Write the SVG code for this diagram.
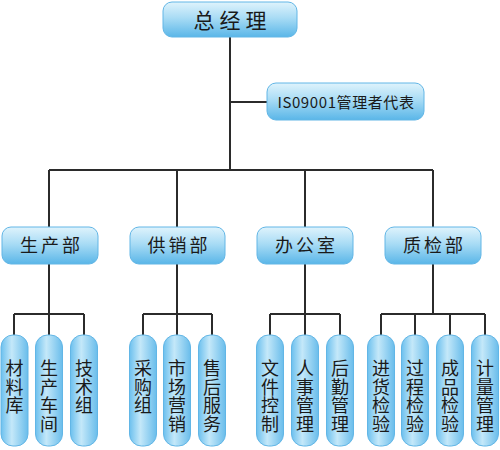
<svg xmlns="http://www.w3.org/2000/svg" width="500" height="450" viewBox="0 0 500 450">
<defs>
<linearGradient id="gh" x1="0" y1="0" x2="0" y2="1">
<stop offset="0" stop-color="#dff3fc"/>
<stop offset="0.45" stop-color="#a9dcf5"/>
<stop offset="1" stop-color="#5ab6e8"/>
</linearGradient>
<linearGradient id="gv" x1="0" y1="0" x2="1" y2="0">
<stop offset="0" stop-color="#6cc0ee"/>
<stop offset="0.4" stop-color="#c4e8f9"/>
<stop offset="1" stop-color="#6abdeb"/>
</linearGradient>
<style>
.bh{fill:url(#gh);stroke:#62b6e6;stroke-width:1}
.bv{fill:url(#gv);stroke:#62b6e6;stroke-width:1}
.t{font-family:"Noto Sans CJK SC","Noto Sans",sans-serif;fill:#1a1a1a;text-anchor:middle}
.t1{font-size:21px;letter-spacing:5px}
.t2{font-size:18px;letter-spacing:3px}
.t3{font-size:15px;letter-spacing:0.6px}
.tv{font-family:"Noto Sans CJK SC","Noto Sans",sans-serif;fill:#1a1a1a;font-size:18px;writing-mode:vertical-rl;text-orientation:upright;letter-spacing:0.7px;text-anchor:start}
.c{fill:none;stroke:#2b2b2b;stroke-width:2}
</style>
</defs>
<g id="connectors">
<path class="c" d="M230 37V170M230 102H267M49 170H433M49 170V227M177 170V227M305 170V227M433 170V227"/>
<path class="c" d="M49 264V314M177 264V314M305 264V314M433 264V314"/>
<path class="c" d="M14 314H84M143 314H212M270 314H340M381 314H485"/>
<path class="c" d="M14 314V335M49 314V335M84 314V335M143 314V335M177 314V335M212 314V335M270 314V335M305 314V335M340 314V335M381 314V335M415 314V335M450 314V335M485 314V335"/>
</g>
<g id="n-gm"><rect class="bh" x="163" y="2" width="134" height="35" rx="9"/><text class="t t1" x="232.5" y="28">总经理</text></g>
<g id="n-iso"><rect class="bh" x="267" y="83" width="157" height="37" rx="9"/><text class="t t3" x="346" y="108">IS09001管理者代表</text></g>
<g id="n-sc"><rect class="bh" x="2" y="227" width="96" height="37" rx="9"/><text class="t t2" x="51.5" y="252">生产部</text></g>
<g id="n-gx"><rect class="bh" x="130" y="227" width="95" height="37" rx="9"/><text class="t t2" x="179" y="252">供销部</text></g>
<g id="n-bg"><rect class="bh" x="257" y="227" width="96" height="37" rx="9"/><text class="t t2" x="306.5" y="252">办公室</text></g>
<g id="n-zj"><rect class="bh" x="385" y="227" width="96" height="37" rx="9"/><text class="t t2" x="434.5" y="252">质检部</text></g>
<g id="n-cl"><rect class="bv" x="1" y="335" width="27" height="111" rx="12"/><text class="tv" x="14.5" y="359">材料库</text></g>
<g id="n-cj"><rect class="bv" x="35.5" y="335" width="27" height="111" rx="12"/><text class="tv" x="49" y="359">生产车间</text></g>
<g id="n-js"><rect class="bv" x="70.5" y="335" width="27" height="111" rx="12"/><text class="tv" x="84" y="359">技术组</text></g>
<g id="n-cg"><rect class="bv" x="129.5" y="335" width="27" height="111" rx="12"/><text class="tv" x="143" y="359">采购组</text></g>
<g id="n-yx"><rect class="bv" x="163.5" y="335" width="27" height="111" rx="12"/><text class="tv" x="177" y="359">市场营销</text></g>
<g id="n-sh"><rect class="bv" x="198.5" y="335" width="27" height="111" rx="12"/><text class="tv" x="212" y="359">售后服务</text></g>
<g id="n-wj"><rect class="bv" x="256.5" y="335" width="27" height="111" rx="12"/><text class="tv" x="270" y="359">文件控制</text></g>
<g id="n-rs"><rect class="bv" x="291.5" y="335" width="27" height="111" rx="12"/><text class="tv" x="305" y="359">人事管理</text></g>
<g id="n-hq"><rect class="bv" x="326.5" y="335" width="27" height="111" rx="12"/><text class="tv" x="340" y="359">后勤管理</text></g>
<g id="n-jh"><rect class="bv" x="367.5" y="335" width="27" height="111" rx="12"/><text class="tv" x="381" y="359">进货检验</text></g>
<g id="n-gc"><rect class="bv" x="401.5" y="335" width="27" height="111" rx="12"/><text class="tv" x="415" y="359">过程检验</text></g>
<g id="n-cp"><rect class="bv" x="436.5" y="335" width="27" height="111" rx="12"/><text class="tv" x="450" y="359">成品检验</text></g>
<g id="n-jl"><rect class="bv" x="471.5" y="335" width="27" height="111" rx="12"/><text class="tv" x="485" y="359">计量管理</text></g>
</svg>
